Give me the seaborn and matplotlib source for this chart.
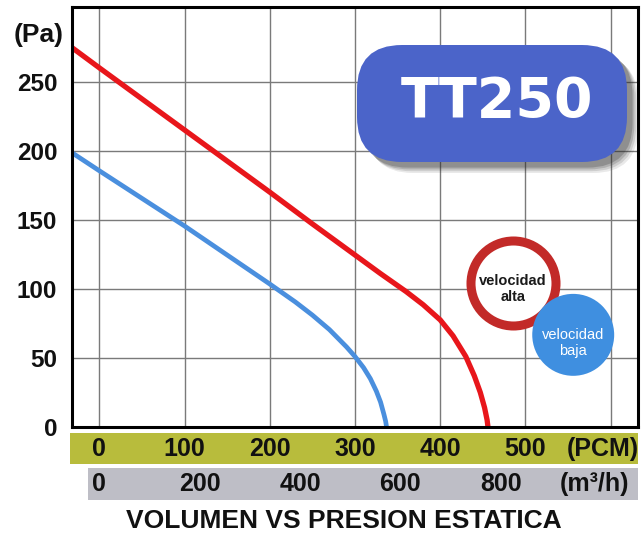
import matplotlib
matplotlib.use("Agg")
import matplotlib.pyplot as plt
import matplotlib.transforms as mtransforms
from matplotlib.patches import FancyBboxPatch
import seaborn as sns
import pandas as pd

# curve readings (PCM vs Pa)
red_pcm = [-32, 0, 50, 100, 150, 200, 250, 300, 330, 360, 380, 400, 415, 430, 440, 447, 452, 455, 456]
red_pa = [274.6, 260, 237.5, 215, 192.5, 170, 147, 124.5, 111, 98, 88.5, 77.5, 66, 51, 37, 25, 14, 5, 0]

blue_pcm = [-32, 0, 50, 100, 150, 200, 230, 250, 270, 290, 300, 310, 318, 325, 330, 334, 336, 337]
blue_pa = [198.5, 185.5, 165.5, 145.5, 124.5, 103.5, 90.5, 81, 70.5, 58, 51, 43, 35, 26, 18, 9, 4, 0]

pa_ticks = [0, 50, 100, 150, 200, 250]
pcm_ticks = [0, 100, 200, 300, 400, 500]
m3h_ticks = [0, 200, 400, 600, 800]
PCM_TO_M3H = 1.699

df_red = pd.DataFrame({'PCM': red_pcm, 'Pa': red_pa})
df_blue = pd.DataFrame({'PCM': blue_pcm, 'Pa': blue_pa})

sns.set_style('white')
plt.rcParams['font.family'] = ['Liberation Sans', 'DejaVu Sans']

W, H = 644, 540
fig = plt.figure(figsize=(W / 100, H / 100), dpi=100)

ax = fig.add_axes([72 / W, (H - 427) / H, 566 / W, 420 / H])
ax.set_xlim(-32, 632)
ax.set_ylim(0, 304)
ax.set_xticks([0, 100, 200, 300, 400, 500, 600])
ax.set_yticks(pa_ticks)
ax.grid(True, color='#7a7a7a', lw=1.0)
ax.set_axisbelow(True)
ax.tick_params(axis='x', length=0, labelbottom=False)
ax.tick_params(axis='y', length=3.6, width=1, color='#7a7a7a', pad=7,
               labelsize=17.5, labelcolor='#111111')
for lab in ax.get_yticklabels():
    lab.set_fontweight('bold')
for sp in ax.spines.values():
    sp.set_visible(True)
    sp.set_color('black')
    sp.set_linewidth(2.2)

sns.lineplot(data=df_red, x='PCM', y='Pa', ax=ax, color='#e8161b', lw=3.8,
             sort=False, estimator=None, solid_capstyle='butt')
sns.lineplot(data=df_blue, x='PCM', y='Pa', ax=ax, color='#4a8fde', lw=3.4,
             sort=False, estimator=None, solid_capstyle='butt')
ax.set_xlabel('')
ax.set_ylabel('')

fig.text(39 / W, 1 - 35 / H, '(Pa)', ha='center', va='center',
         fontsize=19, fontweight='bold', color='#111111')

# speed circles
ax.scatter([485], [104], s=3745, facecolor='white', edgecolor='#c22a28',
           linewidth=6.5, zorder=5, clip_on=False)
ax.text(485, 100, 'velocidad\nalta', ha='center', va='center', fontsize=10.5,
        fontweight='bold', color='#1a1a1a', linespacing=1.2, zorder=6)
ax.scatter([556], [66.7], s=3481, facecolor='#3f8fe0', edgecolor='none',
           zorder=5, clip_on=False)
ax.text(556, 61, 'velocidad\nbaja', ha='center', va='center', fontsize=10.5,
        color='white', linespacing=1.2, zorder=6)

# model badge with soft shadow
inch = fig.dpi_scale_trans
bx, by, bw, bh = 3.57, (H - 162) / 100, 2.70, 1.17
for i, a in enumerate([0.10, 0.14, 0.18, 0.24]):
    off = 0.11 - i * 0.018
    sh = FancyBboxPatch((bx + off, by - off), bw, bh,
                        boxstyle='round,pad=0,rounding_size=0.45',
                        transform=inch, facecolor='#2a2a2a', edgecolor='none',
                        alpha=a, zorder=7, clip_on=False)
    ax.add_patch(sh)
badge = FancyBboxPatch((bx, by), bw, bh, boxstyle='round,pad=0,rounding_size=0.45',
                       transform=inch, facecolor='#4b64c9', edgecolor='none',
                       zorder=8, clip_on=False)
ax.add_patch(badge)
ax.text(bx + bw / 2 + 0.05, by + bh / 2 + 0.01, 'TT250', transform=inch,
        ha='center', va='center', fontsize=40, fontweight='heavy',
        family='DejaVu Sans', color='white', zorder=9)

# PCM band
ax_pcm = fig.add_axes([70 / W, (H - 464) / H, 568 / W, 31 / H])
ax_pcm.set_facecolor('#b8bc3c')
ax_pcm.set_xticks([])
ax_pcm.set_yticks([])
for sp in ax_pcm.spines.values():
    sp.set_visible(False)
tr = mtransforms.blended_transform_factory(ax.transData, ax_pcm.transAxes)
for v in pcm_ticks:
    ax_pcm.text(v, 0.48, str(v), transform=tr, ha='center', va='center',
                fontsize=18, fontweight='bold', color='#111111')
ax_pcm.text(591, 0.48, '(PCM)', transform=tr, ha='center', va='center',
            fontsize=18, fontweight='bold', color='#111111')

# m3/h band
ax_m3 = fig.add_axes([88 / W, (H - 500) / H, 550 / W, 32 / H])
ax_m3.set_facecolor('#bebec6')
ax_m3.set_xticks([])
ax_m3.set_yticks([])
for sp in ax_m3.spines.values():
    sp.set_visible(False)
tr2 = mtransforms.blended_transform_factory(ax.transData, ax_m3.transAxes)
for v in m3h_ticks:
    ax_m3.text(v / PCM_TO_M3H, 0.5, str(v), transform=tr2, ha='center', va='center',
               fontsize=18, fontweight='bold', color='#111111')
ax_m3.text(581, 0.5, '(m³/h)', transform=tr2, ha='center', va='center',
           fontsize=18, fontweight='bold', color='#111111')

fig.text(344 / W, 1 - 521 / H, 'VOLUMEN VS PRESION ESTATICA', ha='center',
         va='center', fontsize=19, fontweight='bold', color='#111111')

fig.savefig('out.png', dpi=100)
